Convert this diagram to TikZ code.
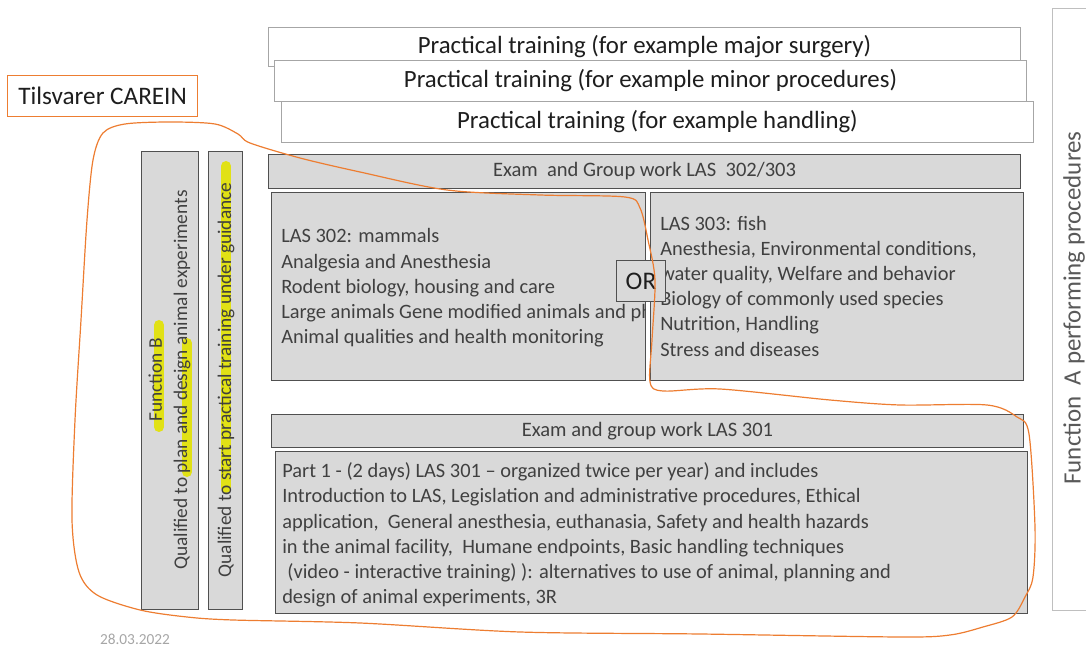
\documentclass[tikz,border=0pt]{standalone}
\usepackage{fontspec}
\setmainfont{Carlito}
\definecolor{boxgray}{HTML}{D9D9D9}
\definecolor{boxline}{HTML}{505050}
\definecolor{topline}{HTML}{A6A6A6}
\definecolor{rightline}{HTML}{BFBFBF}
\definecolor{bodytext}{HTML}{404040}
\definecolor{toptext}{HTML}{1E1E1E}
\definecolor{sidetext}{HTML}{595959}
\definecolor{datetext}{HTML}{A6A6A6}
\definecolor{penorange}{HTML}{ED7D31}
\definecolor{marker}{HTML}{E2E200}
\begin{document}
\begin{tikzpicture}[x=0.75pt,y=-0.75pt,
  gbox/.style={draw=boxline, fill=boxgray, line width=0.75pt, inner sep=0pt, anchor=north west},
  tbox/.style={draw=topline, fill=white, line width=0.75pt, inner sep=0pt, anchor=north west,
    font=\fontsize{18.6}{22}\selectfont, text=toptext},
  body/.style={inner sep=0pt, anchor=west, align=left, text=bodytext,
    font=\fontsize{15.3}{18.9}\selectfont},
  vtext/.style={inner sep=0pt, rotate=90, align=center, text=bodytext,
    font=\fontsize{14.5}{18.8}\selectfont},
  hilite/.style={draw=marker, line width=7.5pt, line cap=round, opacity=0.9},
  pen/.style={draw=penorange, line width=0.9pt}
]
\useasboundingbox (0,0) rectangle (1086,648);

% right side box
\node[draw=rightline, fill=white, line width=0.75pt, inner sep=0pt, anchor=north west,
  minimum width=50*0.75pt, minimum height=602*0.75pt] (fa) at (1052,8) {};
\node[rotate=90, inner sep=0pt, text=sidetext, font=\fontsize{18.7}{22}\selectfont]
  (fatext) at (1074,308) {Function\ \ A performing procedures};

% top practical training boxes
\node[tbox, minimum width=752*0.75pt, minimum height=39*0.75pt] (pt1) at (268,27)
  {Practical training (for example major surgery)};
\node[tbox, minimum width=752*0.75pt, minimum height=41*0.75pt] (pt2) at (274,60)
  {Practical training (for example minor procedures)};
\node[tbox, minimum width=752*0.75pt, minimum height=41*0.75pt] (pt3) at (281,101)
  {Practical training (for example handling)};

% Tilsvarer CAREIN
\node[draw=penorange, fill=white, line width=0.9pt, inner sep=0pt, anchor=north west,
  minimum width=190*0.75pt, minimum height=41*0.75pt, text=toptext,
  font=\fontsize{18.9}{22}\selectfont] (carein) at (7,75) {Tilsvarer CAREIN};

% vertical bars
\node[gbox, minimum width=57*0.75pt, minimum height=458*0.75pt] (barb) at (141,151) {};
\node[gbox, minimum width=34*0.75pt, minimum height=458*0.75pt] (barq) at (208,151) {};
\draw[hilite] (159,325) -- (159,427);
\draw[hilite] (187,343) -- (187,472);
\draw[hilite] (226,166) -- (226,488);
\node[vtext] (barbtext) at (169.5,380) {Function B\\Qualified to plan and design animal experiments};
\node[vtext] (barqtext) at (226,380) {Qualified to start practical training under guidance};

% Exam 302/303
\node[gbox, minimum width=752*0.75pt, minimum height=34*0.75pt, text=bodytext,
  font=\fontsize{15.4}{18}\selectfont] (exam23) at (268,154) {Exam\ \ and Group work LAS\ \ 302/303};

% LAS 302
\node[gbox, minimum width=374*0.75pt, minimum height=188*0.75pt] (las302) at (271,192) {};
\begin{scope}
\clip (271,192) rectangle (645,380);
\node[body] (las302text) at (281,288) {LAS 302: mammals\\Analgesia and Anesthesia\\Rodent biology, housing and care\\Large animals Gene modified animals and ph\\Animal qualities and health monitoring};
\end{scope}

% LAS 303
\node[gbox, minimum width=373*0.75pt, minimum height=188*0.75pt] (las303) at (650,192) {};
\node[body] (las303text) at (660,286) {LAS 303: fish\\Anesthesia, Environmental conditions,\\water quality, Welfare and behavior\\Biology of commonly used species\\Nutrition, Handling\\Stress and diseases};

% OR
\node[draw=boxline, fill=boxgray, line width=0.75pt, inner sep=0pt, anchor=north west,
  minimum width=49*0.75pt, minimum height=41*0.75pt, text=toptext,
  font=\fontsize{19}{22}\selectfont] (or) at (616,260) {OR};

% Exam 301
\node[gbox, minimum width=752*0.75pt, minimum height=33*0.75pt, text=bodytext,
  font=\fontsize{15.4}{18}\selectfont] (exam1) at (271,414) {Exam and group work LAS 301};

% Part 1
\node[gbox, minimum width=752*0.75pt, minimum height=162*0.75pt] (part1) at (275,451) {};
\node[body] (part1text) at (282,535) {Part 1 - (2 days) LAS 301 -- organized twice per year) and includes\\Introduction to LAS, Legislation and administrative procedures, Ethical\\application,\ \ General anesthesia, euthanasia, Safety and health hazards\\in the animal facility,\ \ Humane endpoints, Basic handling techniques\\\hspace*{0.25em}(video - interactive training) ): alternatives to use of animal, planning and\\design of animal experiments, 3R};

% date
\node[inner sep=0pt, text=datetext, font=\fontsize{11.5}{13}\selectfont] (date) at (135,639) {28.03.2022};

% orange freehand loop
\draw[pen] plot[smooth cycle, tension=0.5] coordinates {
 (103,133) (125,124) (170,122) (215,124) (238,134) (250,143) (300,158) (360,172)
 (447,190) (540,195) (625,197) (640,208) (648,240) (655,280) (652,340) (650,382)
 (663,391) (720,389) (830,400) (900,405) (987,405) (1017,417) (1029,434) (1035,527)
 (1033,577) (1025,597) (1012,617) (983,627) (950,635) (900,637) (700,634) (520,632)
 (360,623) (233,620) (187,617) (140,610) (97,595) (79,572) (72,520) (75,420)
 (81,320) (87,220) (93,160)};
\end{tikzpicture}
\end{document}
